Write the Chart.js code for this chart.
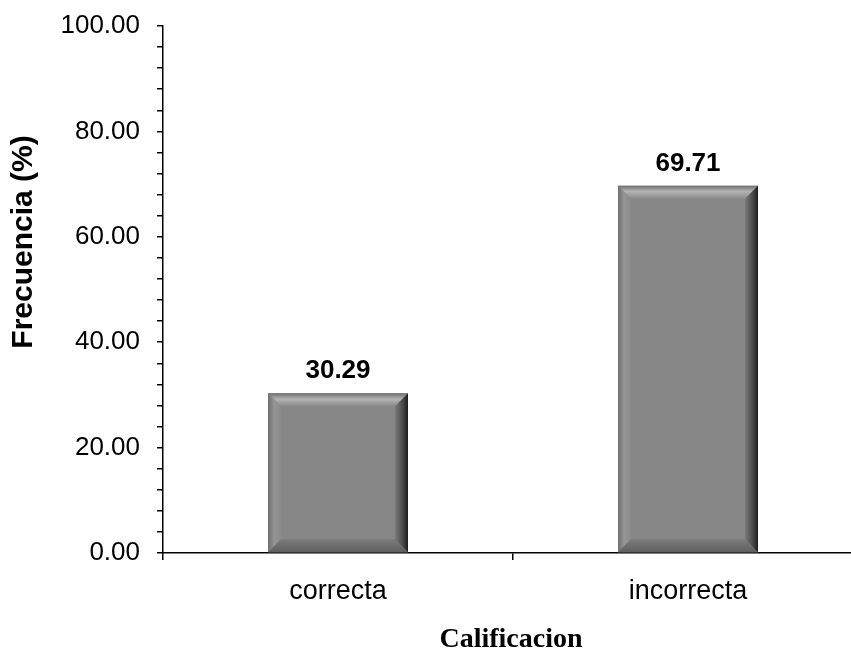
<!DOCTYPE html>
<html>
<head>
<meta charset="utf-8">
<script src="https://cdn.jsdelivr.net/npm/chart.js@4.4.0/dist/chart.umd.min.js"></script>
<style>
  html, body { margin:0; padding:0; background:#fff; overflow:hidden; }
  #wrap { width:851px; height:650px; overflow:hidden; position:relative; }
  canvas { display:block; }
</style>
</head>
<body>
<div id="wrap"><canvas id="myChart" width="880" height="650"></canvas></div>
<script>
/* datos */
const categorias = ["correcta", "incorrecta"];
const frecuencias = [30.29, 69.71];
const yMin = 0;
const yMax = 100;
const yStep = 4;      // minor ticks
const yLabelStep = 20;

const yTitle = "Frecuencia (%)";
const xTitle = "Calificacion";

/* bisel de las barras */
const bevelPlugin = {
  id: "bevel",
  afterDatasetsDraw(chart) {
    const c = chart.ctx;
    const meta = chart.getDatasetMeta(0);
    meta.data.forEach(bar => {
      const l = bar.x - bar.width / 2, r = bar.x + bar.width / 2;
      const t = bar.y, b = bar.base;
      const k = 13;
      c.save();
      // top
      let g = c.createLinearGradient(0, t, 0, t + k);
      g.addColorStop(0, "#6f6f6f");
      g.addColorStop(0.45, "#b4b4b4");
      g.addColorStop(1, "#8a8a8a");
      c.fillStyle = g;
      c.beginPath(); c.moveTo(l, t); c.lineTo(r, t); c.lineTo(r - k, t + k); c.lineTo(l + k, t + k); c.closePath(); c.fill();
      // left
      g = c.createLinearGradient(l, 0, l + k, 0);
      g.addColorStop(0, "#707070");
      g.addColorStop(0.5, "#959595");
      g.addColorStop(1, "#8a8a8a");
      c.fillStyle = g;
      c.beginPath(); c.moveTo(l, t); c.lineTo(l + k, t + k); c.lineTo(l + k, b - k); c.lineTo(l, b); c.closePath(); c.fill();
      // bottom
      g = c.createLinearGradient(0, b - k, 0, b);
      g.addColorStop(0, "#7c7c7c");
      g.addColorStop(1, "#5e5e5e");
      c.fillStyle = g;
      c.beginPath(); c.moveTo(l, b); c.lineTo(l + k, b - k); c.lineTo(r - k, b - k); c.lineTo(r, b); c.closePath(); c.fill();
      // right
      g = c.createLinearGradient(r - k, 0, r, 0);
      g.addColorStop(0, "#7a7a7a");
      g.addColorStop(0.6, "#4a4a4a");
      g.addColorStop(1, "#1e1e1e");
      c.fillStyle = g;
      c.beginPath(); c.moveTo(r, t); c.lineTo(r, b); c.lineTo(r - k, b - k); c.lineTo(r - k, t + k); c.closePath(); c.fill();
      c.restore();
    });
  }
};

/* etiquetas de datos y titulos de ejes */
const labelsPlugin = {
  id: "labels",
  afterDraw(chart) {
    const c = chart.ctx;
    const meta = chart.getDatasetMeta(0);
    c.save();
    c.fillStyle = "#000";
    c.font = "bold 26px 'Liberation Sans', Arial, sans-serif";
    c.textAlign = "center";
    c.textBaseline = "alphabetic";
    meta.data.forEach((bar, i) => {
      c.fillText(frecuencias[i].toFixed(2), bar.x, bar.y - 15);
    });

    // titulo eje y
    c.save();
    c.translate(24, 242);
    c.rotate(-Math.PI / 2);
    c.textBaseline = "middle";
    c.font = "bold 30px 'Liberation Sans', Arial, sans-serif";
    c.fillText(yTitle, 0, 0);
    c.restore();

    // titulo eje x
    c.font = "bold 28px 'Liberation Serif', 'Times New Roman', serif";
    c.textBaseline = "middle";
    c.fillText(xTitle, 511, 640);
    c.restore();
  }
};

const ctx = document.getElementById("myChart");

const chart = new Chart(ctx, {
  type: "bar",
  data: {
    labels: categorias,
    datasets: [{
      data: frecuencias,
      backgroundColor: "#878787",
      borderWidth: 0,
      barPercentage: 0.4,
      categoryPercentage: 1
    }]
  },
  options: {
    responsive: false,
    animation: false,
    layout: { padding: { top: 26, left: 0, right: 17, bottom: 0 } },
    plugins: {
      legend: { display: false },
      tooltip: { enabled: false }
    },
    scales: {
      x: {
        afterFit: s => { s.height = 97; s.paddingLeft = 0; s.paddingRight = 0; },
        grid: {
          offset: true,
          drawOnChartArea: false,
          drawTicks: true,
          tickLength: 7,
          color: "#000",
          lineWidth: 1.5
        },
        border: { display: true, color: "#000", width: 1.5 },
        ticks: {
          color: "#000",
          padding: 15,
          font: { family: "'Liberation Sans', Arial, sans-serif", size: 27 }
        }
      },
      y: {
        min: yMin,
        max: yMax,
        afterFit: s => { s.width = 163; s.paddingTop = 0; s.paddingBottom = 0; },
        grid: {
          drawOnChartArea: false,
          drawTicks: true,
          tickLength: 6,
          color: "#000",
          lineWidth: 1.5
        },
        border: { display: true, color: "#000", width: 1.5 },
        ticks: {
          stepSize: yStep,
          autoSkip: false,
          color: "#000",
          padding: 17,
          font: { family: "'Liberation Sans', Arial, sans-serif", size: 26 },
          callback: v => (v % yLabelStep === 0 ? v.toFixed(2) : "")
        }
      }
    }
  },
  plugins: [bevelPlugin, labelsPlugin]
});
</script>
</body>
</html>
